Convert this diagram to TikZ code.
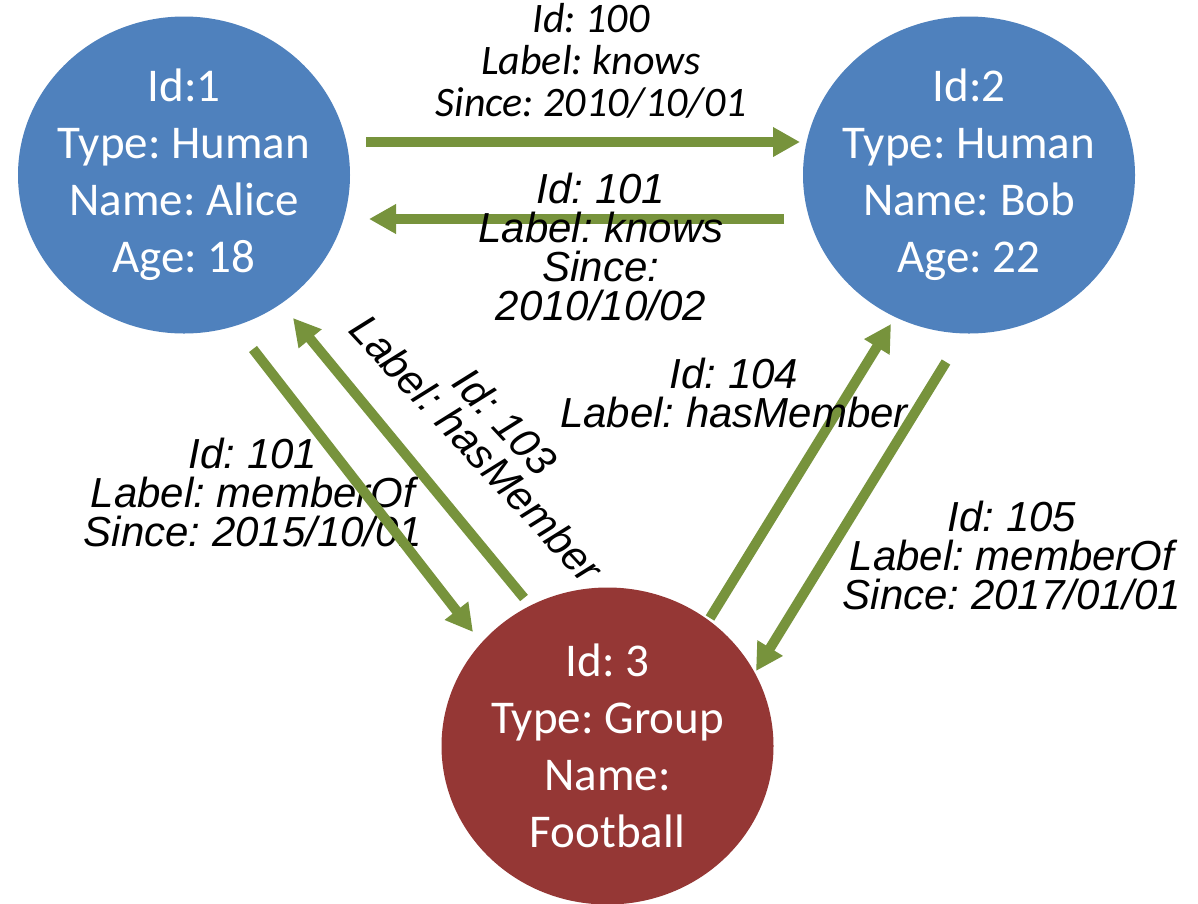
\documentclass[tikz,border=0pt]{standalone}
\usepackage{fontspec}
\setmainfont{Carlito}
\newfontfamily\arialfont{Liberation Sans}
\usetikzlibrary{arrows.meta,shapes.geometric}
\definecolor{nodeblue}{HTML}{4F81BD}
\definecolor{nodered}{HTML}{953735}
\definecolor{edgegreen}{HTML}{77933C}
\frenchspacing
\begin{document}
\frenchspacing
\begin{tikzpicture}[x=1pt,y=-1pt,
  vertex/.style={ellipse, minimum width=332pt, minimum height=317pt, inner xsep=-15pt, inner ysep=0pt,
    text=white, align=center, font=\frenchspacing\fontsize{47}{57}\selectfont},
  human/.style={vertex, fill=nodeblue},
  grp/.style={vertex, fill=nodered},
  rel/.style={draw=edgegreen, line width=10pt, -{Triangle[length=27pt,width=28pt]}},
  elab/.style={align=center, inner sep=0pt, font=\frenchspacing\arialfont\itshape\fontsize{42}{39}\selectfont},
  elabc/.style={align=center, inner sep=0pt, font=\frenchspacing\itshape\fontsize{42}{42}\selectfont}]
\path[fill=white] (0,0) rectangle (1198,903);
\useasboundingbox (0,0) rectangle (1198,903);

\node[human] (alice) at (184,175) {Id:1\\Type: Human\\Name: Alice\\Age: 18};
\node[human] (bob) at (969,175) {Id:2\\Type: Human\\Name: Bob\\Age: 22};
\node[grp] (group) at (607.5,746) {Id: 3\\Type: Group\\Name:\\Football};

\coordinate (e1s) at (366,142); \coordinate (e1t) at (800,142);
\coordinate (e2s) at (784,219); \coordinate (e2t) at (369,219);
\coordinate (e3s) at (253,349); \coordinate (e3t) at (473,632);
\coordinate (e4s) at (524,598); \coordinate (e4t) at (293,318);
\coordinate (e5s) at (710,618); \coordinate (e5t) at (891,324);
\coordinate (e6s) at (946,362); \coordinate (e6t) at (756,671);

\node[elab] (l101b) at (253,492) {Id: 101\\Label: memberOf\\Since: 2015/10/01};

\draw[rel] (e1s) -- (e1t);
\draw[rel] (e2s) -- (e2t);
\draw[rel] (e3s) -- (e3t);
\draw[rel] (e4s) -- (e4t);
\draw[rel] (e5s) -- (e5t);
\draw[rel] (e6s) -- (e6t);

\node[elabc] (l100) at (591,61) {Id: 100\\Label: knows\\Since: 2010/10/01};
\node[elab] (l101a) at (601,246.5) {Id: 101\\Label: knows\\Since:\\2010/10/02};
\node[elab, rotate=-47] (l103) at (491,435) {Id: 103\\Label: hasMember};
\node[elab] (l104) at (734,392.5) {Id: 104\\Label: hasMember};
\node[elab] (l105) at (1012,555) {Id: 105\\Label: memberOf\\Since: 2017/01/01};
\end{tikzpicture}
\end{document}
